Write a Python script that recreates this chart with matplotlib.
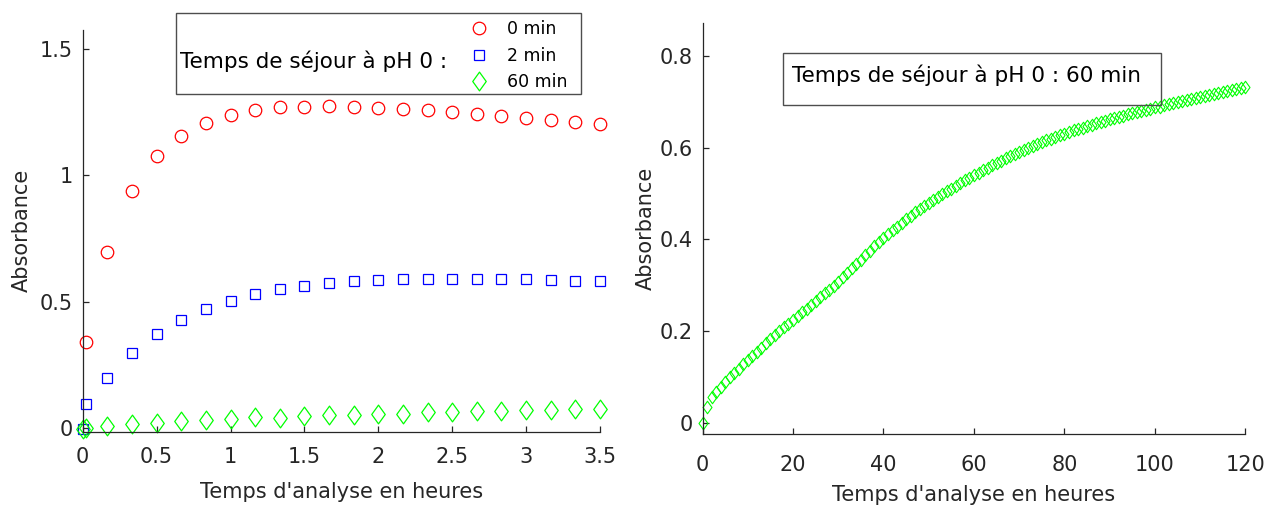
import matplotlib
matplotlib.use("Agg")
import matplotlib.pyplot as plt
import matplotlib.patches as patches
from matplotlib.path import Path

plt.rcParams['font.family'] = ['DejaVu Sans']

# left panel: analysis time (h) and absorbance for each residence time at pH 0
t_red = [0.025, 1/6, 2/6, 3/6, 4/6, 5/6, 1.0, 7/6, 8/6, 9/6, 10/6, 11/6, 2.0,
         13/6, 14/6, 15/6, 16/6, 17/6, 3.0, 19/6, 20/6, 3.5]
a_0min = [0.340, 0.697, 0.940, 1.077, 1.157, 1.209, 1.239, 1.258, 1.270, 1.270,
          1.275, 1.270, 1.268, 1.263, 1.258, 1.249, 1.243, 1.234, 1.228, 1.218,
          1.213, 1.204]

t_all = [0.0, 0.025, 1/6, 2/6, 3/6, 4/6, 5/6, 1.0, 7/6, 8/6, 9/6, 10/6, 11/6, 2.0,
         13/6, 14/6, 15/6, 16/6, 17/6, 3.0, 19/6, 20/6, 3.5]
a_2min = [-0.004, 0.098, 0.198, 0.299, 0.374, 0.430, 0.470, 0.505, 0.532, 0.552,
          0.562, 0.573, 0.582, 0.587, 0.591, 0.591, 0.591, 0.591, 0.591, 0.591,
          0.587, 0.582, 0.582]
a_60min = [-0.004, 0.003, 0.011, 0.019, 0.022, 0.028, 0.033, 0.037, 0.045, 0.042,
           0.050, 0.054, 0.054, 0.058, 0.058, 0.063, 0.063, 0.069, 0.069, 0.073,
           0.073, 0.077, 0.077]
labels = ["0 min", "2 min", "60 min"]

# right panel: 60 min residence, one reading per hour
a_long = [0.000, 0.035, 0.055, 0.067, 0.078, 0.089, 0.100, 0.109, 0.118, 0.127,
          0.136, 0.145, 0.155, 0.164, 0.173, 0.182, 0.191, 0.200, 0.208, 0.216,
          0.225, 0.233, 0.241, 0.249, 0.257, 0.266, 0.274, 0.282, 0.290, 0.298,
          0.308, 0.317, 0.327, 0.337, 0.346, 0.356, 0.365, 0.375, 0.385, 0.394,
          0.403, 0.412, 0.420, 0.428, 0.436, 0.444, 0.452, 0.459, 0.466, 0.473,
          0.480, 0.487, 0.493, 0.499, 0.505, 0.511, 0.517, 0.523, 0.529, 0.534,
          0.540, 0.545, 0.551, 0.556, 0.562, 0.567, 0.572, 0.577, 0.582, 0.587,
          0.591, 0.596, 0.600, 0.604, 0.608, 0.612, 0.616, 0.620, 0.624, 0.627,
          0.631, 0.634, 0.638, 0.641, 0.644, 0.647, 0.650, 0.653, 0.656, 0.659,
          0.662, 0.665, 0.667, 0.670, 0.673, 0.675, 0.678, 0.680, 0.683, 0.685,
          0.688, 0.690, 0.693, 0.695, 0.697, 0.700, 0.702, 0.704, 0.706, 0.708,
          0.711, 0.713, 0.715, 0.717, 0.720, 0.722, 0.724, 0.726, 0.728, 0.731,
          0.733]
t_long = list(range(len(a_long)))

W, H = 1266, 505
fig = plt.figure(figsize=(W / 100, H / 100), dpi=100)

# matlab-like diamond (a bit narrower than tall)
diamond = Path([(0, 1), (0.72, 0), (0, -1), (-0.72, 0), (0, 1)],
               [Path.MOVETO, Path.LINETO, Path.LINETO, Path.LINETO, Path.CLOSEPOLY])

dark = (0.15, 0.15, 0.15)


def style_axes(ax, xpad):
    for s in ("top", "right"):
        ax.spines[s].set_visible(False)
    for s in ("left", "bottom"):
        ax.spines[s].set_color(dark)
        ax.spines[s].set_linewidth(0.9)
    ax.tick_params(direction="in", length=4, width=0.9, color=dark,
                   labelcolor=dark, labelsize=15)
    ax.tick_params(axis="x", pad=xpad)
    ax.tick_params(axis="y", pad=7)


def px_box(x0, y0, x1, y1):
    # pixel box (top-left origin) -> figure fraction rectangle
    return patches.Rectangle((x0 / W, 1 - y1 / H), (x1 - x0) / W, (y1 - y0) / H,
                             transform=fig.transFigure, fill=False,
                             edgecolor=(0.3, 0.3, 0.3), linewidth=1.0)


# ---- left panel
ax1 = fig.add_axes([82.7 / W, 1 - 431.7 / H, (600 - 82.7) / W, (431.7 - 30) / H])
ax1.plot(t_red, a_0min, ls="none", marker="o", ms=9, mfc="none", mec="red",
         mew=0.9, label=labels[0], clip_on=False)
ax1.plot(t_all, a_2min, ls="none", marker="s", ms=6.8, mfc="none", mec="blue",
         mew=0.9, label=labels[1], clip_on=False)
ax1.plot(t_all, a_60min, ls="none", marker=diamond, ms=13.5, mfc="none",
         mec=(0, 1, 0), mew=0.9, label=labels[2], clip_on=False)
ax1.set_xlim(0, 3.5)
ax1.set_ylim(-0.0134, 1.575)
ax1.set_xticks([0, 0.5, 1, 1.5, 2, 2.5, 3, 3.5])
ax1.set_xticklabels(["0", "0.5", "1", "1.5", "2", "2.5", "3", "3.5"])
ax1.set_yticks([0, 0.5, 1, 1.5])
ax1.set_yticklabels(["0", "0.5", "1", "1.5"])
style_axes(ax1, 11)
ax1.set_xlabel("Temps d'analyse en heures", fontsize=15, color=dark, labelpad=11)
ax1.set_ylabel("Absorbance", fontsize=15, color=dark, labelpad=6)

fig.add_artist(px_box(176, 13.5, 581, 94))
fig.text(180 / W, 1 - 61 / H, "Temps de séjour à pH 0 :", fontsize=15.5,
         ha="left", va="center")
ax1.legend(loc="upper left", bbox_to_anchor=(469 / W, 1 - 20 / H),
           bbox_transform=fig.transFigure, frameon=False, fontsize=12.5,
           handlelength=1.2, handletextpad=1.0, labelspacing=0.5,
           borderpad=0, borderaxespad=0)

# ---- right panel
ax2 = fig.add_axes([702.5 / W, 1 - 434 / H, (1245.5 - 702.5) / W, (434 - 22.7) / H])
ax2.plot(t_long, a_long, ls="none", marker=diamond, ms=9, mfc="none",
         mec=(0, 1, 0), mew=0.8, clip_on=False)
ax2.set_xlim(0, 120)
ax2.set_ylim(-0.0247, 0.873)
ax2.set_xticks([0, 20, 40, 60, 80, 100, 120])
ax2.set_yticks([0, 0.2, 0.4, 0.6, 0.8])
ax2.set_yticklabels(["0", "0.2", "0.4", "0.6", "0.8"])
style_axes(ax2, 15)
ax2.set_xlabel("Temps d'analyse en heures", fontsize=15, color=dark, labelpad=7)
ax2.set_ylabel("Absorbance", fontsize=15, color=dark, labelpad=3)

fig.add_artist(px_box(783.3, 53.3, 1160.7, 105))
fig.text(791.7 / W, 1 - 75 / H, "Temps de séjour à pH 0 : 60 min", fontsize=15.5,
         ha="left", va="center")

fig.savefig("out.png", dpi=100)
